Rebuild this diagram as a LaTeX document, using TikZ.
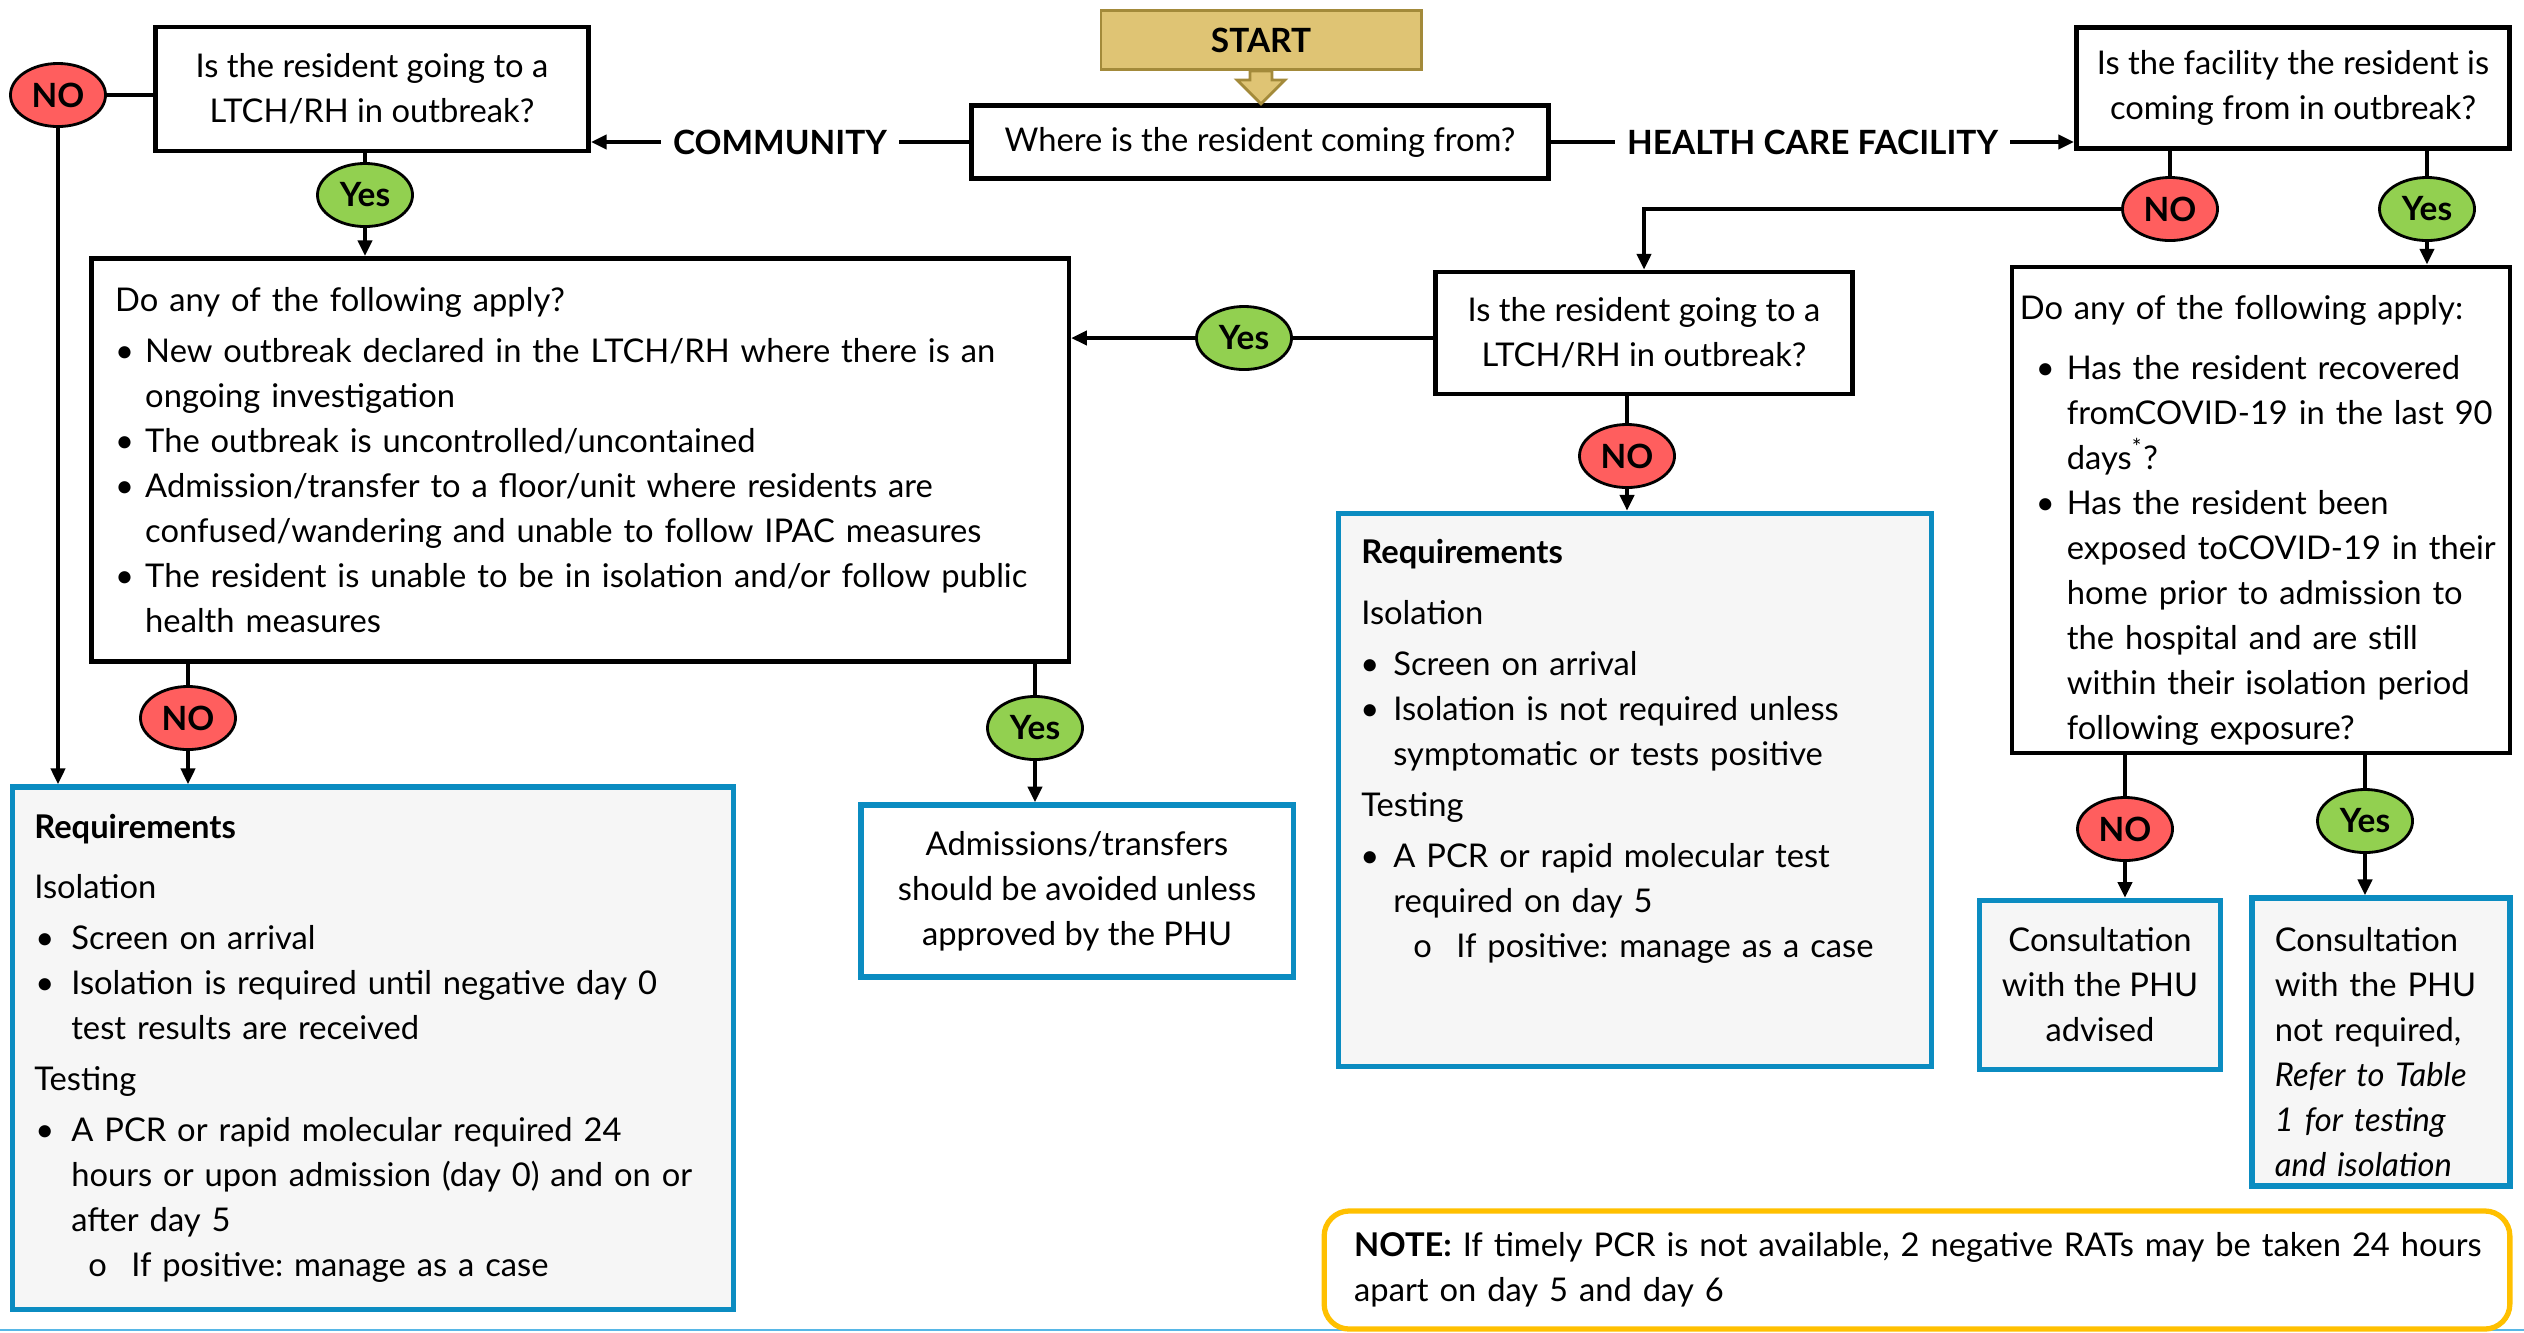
\documentclass[tikz,border=0pt]{standalone}
\usepackage{fontspec}
\setmainfont{Lato}
\usetikzlibrary{arrows.meta,shapes.geometric}

\definecolor{nored}{HTML}{FF5E5E}
\definecolor{yesgreen}{HTML}{92D050}
\definecolor{phublue}{HTML}{0B8CC1}
\definecolor{reqgray}{HTML}{F6F6F6}
\definecolor{startgold}{HTML}{DFC474}
\definecolor{startedge}{HTML}{A38A3A}
\definecolor{noteyellow}{HTML}{FFC000}
\definecolor{pageblue}{HTML}{57B7E6}

\frenchspacing
\newlength\padx
\newlength\bulx
\newlength\bulw
\newlength\subx
\newlength\subw
\newcommand\hd[1]{\par\noindent\hspace*{\padx}\mbox{#1}}
\newcommand\itm[1]{\par\noindent\hspace*{\bulx}\makebox[\bulw][l]{\textbullet}\mbox{#1}}
\newcommand\itmc[1]{\par\noindent\hspace*{\bulx}\hspace*{\bulw}\mbox{#1}}
\newcommand\itms[1]{\par\noindent\hspace*{\subx}\makebox[\subw][l]{o}\mbox{#1}}

\begin{document}
\begin{tikzpicture}[x=0.01cm, y=-0.01cm,
  font=\fontsize{9.3}{12.8}\selectfont,
  >={Triangle[length=4.5pt,width=4pt]},
  line/.style={line width=1.1pt},
  qbox/.style={draw, line width=1.3pt, align=center, inner sep=0pt},
  bigbox/.style={draw, line width=1.3pt, align=left, inner sep=0pt},
  reqbox/.style={draw=phublue, fill=reqgray, line width=1.5pt, align=left, inner sep=0pt},
  notebox/.style={draw=noteyellow, fill=white, line width=1.5pt, rounded corners=0.25cm, align=left, inner sep=0pt},
  startbox/.style={draw=startedge, fill=startgold, line width=0.8pt, font=\fontsize{9.5}{11}\selectfont\bfseries},
  nooval/.style={ellipse, draw, line width=0.8pt, fill=nored, minimum width=0.95cm, minimum height=0.63cm, inner sep=0pt, font=\fontsize{9.5}{11}\selectfont\bfseries},
  yesoval/.style={nooval, fill=yesgreen},
  tag/.style={fill=white, inner xsep=0.12cm, font=\fontsize{9.5}{11}\selectfont\bfseries}]
  \useasboundingbox (0,0) rectangle (2524,1332);
  \draw[pageblue, line width=0.6pt] (0,1330) -- (2524,1330);

  \node[startbox, minimum width=3.2cm, minimum height=0.59cm] (start) at (1261,40) {START};
  \node[qbox, minimum width=5.77cm, minimum height=0.73cm] (main) at (1260,142) {Where is the resident coming from?};
  \node[qbox, minimum width=4.33cm, minimum height=1.24cm] (q1) at (372,89) {Is the resident going to a\\LTCH/RH in outbreak?};
  \node[qbox, minimum width=4.33cm, minimum height=1.21cm] (q2) at (2293,88) {Is the facility the resident is\\coming from in outbreak?};
  \node[qbox, minimum width=4.17cm, minimum height=1.22cm] (q3) at (1644,333) {Is the resident going to a\\LTCH/RH in outbreak?};

  \node[bigbox, text width=9.77cm, minimum height=4.03cm] (apply1) at (580,460) {%
    \setlength\padx{.24cm}\setlength\bulx{.24cm}\setlength\bulw{.30cm}%
    \hd{Do any of the following apply?}\par\vspace{1.7pt}
    \itm{New outbreak declared in the LTCH/RH where there is an}
    \itmc{ongoing investigation}
    \itm{The outbreak is uncontrolled/uncontained}
    \itm{Admission/transfer to a floor/unit where residents are}
    \itmc{confused/wandering and unable to follow IPAC measures}
    \itm{The resident is unable to be in isolation and/or follow public}
    \itmc{health measures}
    \par\kern0.2cm};
  \node[bigbox, text width=4.98cm, minimum height=4.86cm] (apply2) at (2261,510) {%
    \setlength\padx{.08cm}\setlength\bulx{.24cm}\setlength\bulw{.31cm}%
    \hd{Do any of the following apply:}\par\vspace{4pt}
    \itm{Has the resident recovered}
    \itmc{fromCOVID-19 in the last 90}
    \itmc{days\textsuperscript{*}?}
    \itm{Has the resident been}
    \itmc{exposed toCOVID-19 in their}
    \itmc{home prior to admission to}
    \itmc{the hospital and are still}
    \itmc{within their isolation period}
    \itmc{following exposure?}};

  \node[reqbox, text width=7.21cm, minimum height=5.22cm] (req1) at (373,1048) {%
    \setlength\padx{.22cm}\setlength\bulx{.23cm}\setlength\bulw{.36cm}%
    \setlength\subx{.76cm}\setlength\subw{.43cm}%
    \hd{\textbf{Requirements}}\par\vspace{4.5pt}
    \hd{Isolation}\par\vspace{1.7pt}
    \itm{Screen on arrival}
    \itm{Isolation is required until negative day 0}
    \itmc{test results are received}\par\vspace{1.7pt}
    \hd{Testing}\par\vspace{1.7pt}
    \itm{A PCR or rapid molecular required 24}
    \itmc{hours or upon admission (day 0) and on or}
    \itmc{after day 5}
    \itms{If positive: manage as a case}
    \par\kern0.2cm};
  \node[reqbox, fill=white, align=center, minimum width=4.32cm, minimum height=1.72cm] (avoid) at (1077,891) {Admissions/transfers\\should be avoided unless\\approved by the PHU};
  \node[reqbox, text width=5.93cm, minimum height=5.53cm] (req2) at (1635,790) {%
    \setlength\padx{.23cm}\setlength\bulx{.22cm}\setlength\bulw{.33cm}%
    \setlength\subx{.75cm}\setlength\subw{.43cm}%
    \hd{\textbf{Requirements}}\par\vspace{4.5pt}
    \hd{Isolation}\par\vspace{1.7pt}
    \itm{Screen on arrival}
    \itm{Isolation is not required unless}
    \itmc{symptomatic or tests positive}\par\vspace{1.7pt}
    \hd{Testing}\par\vspace{1.7pt}
    \itm{A PCR or rapid molecular test}
    \itmc{required on day 5}
    \itms{If positive: manage as a case}
    \par\rule{0pt}{0.94cm}};
  \node[reqbox, align=center, minimum width=2.41cm, minimum height=1.69cm] (phuno) at (2100,985) {Consultation\\with the PHU\\advised};
  \node[reqbox, text width=2.58cm, minimum height=2.88cm] (phuyes) at (2381,1042) {%
    \setlength\padx{.23cm}%
    \hd{Consultation}
    \hd{with the PHU}
    \hd{not required,}
    \hd{\textit{Refer to Table}}
    \hd{\textit{1 for testing}}
    \hd{\textit{and isolation}}};
  \node[notebox, text width=11.85cm, minimum height=1.18cm] (note) at (1917,1270) {%
    \setlength\padx{.30cm}%
    \hd{\textbf{NOTE:} If timely PCR is not available, 2 negative RATs may be taken 24 hours}
    \hd{apart on day 5 and day 6}
    \par\kern0.22cm};

  \node[nooval] (no1) at (58,95) {NO};
  \node[yesoval] (yes1) at (365,195) {Yes};
  \node[nooval] (no2) at (188,718) {NO};
  \node[yesoval] (yes2) at (1035,728) {Yes};
  \node[yesoval] (yes3) at (1244,338) {Yes};
  \node[nooval] (no3) at (2170,209) {NO};
  \node[yesoval] (yes4) at (2427,209) {Yes};
  \node[nooval] (no4) at (1627,456) {NO};
  \node[nooval] (no5) at (2125,829) {NO};
  \node[yesoval] (yes5) at (2365,821) {Yes};

  \draw[startedge, fill=startgold, line width=0.8pt] (start.south) ++(-11,0) -- ++(0,9) -- ++(-13,0) -- ++(24,24) -- ++(24,-24) -- ++(-13,0) -- ++(0,-9) -- cycle;
  \draw[line,->] (main.west) -- node[tag] {COMMUNITY} (main.west -| q1.east);
  \draw[line,->] (main.east) -- node[tag] {HEALTH CARE FACILITY} (main.east -| q2.west);
  \draw[line] (no1) -- (q1.west |- no1);
  \draw[line,->] (no1) -- (no1 |- req1.north);
  \draw[line] (q1.south -| yes1) -- (yes1);
  \draw[line,->] (yes1) -- (yes1 |- apply1.north);
  \draw[line] (q2.south -| no3) -- (no3);
  \draw[line,->] (no3) -| (q3.north);
  \draw[line] (q2.south -| yes4) -- (yes4);
  \draw[line,->] (yes4) -- (yes4 |- apply2.north);
  \draw[line] (q3.west |- yes3) -- (yes3);
  \draw[line,->] (yes3) -- (yes3 -| apply1.east);
  \draw[line] (q3.south -| no4) -- (no4);
  \draw[line,->] (no4) -- (no4 |- req2.north);
  \draw[line] (apply1.south -| no2) -- (no2);
  \draw[line,->] (no2) -- (no2 |- req1.north);
  \draw[line] (apply1.south -| yes2) -- (yes2);
  \draw[line,->] (yes2) -- (yes2 |- avoid.north);
  \draw[line] (apply2.south -| no5) -- (no5);
  \draw[line,->] (no5) -- (no5 |- phuno.north);
  \draw[line] (apply2.south -| yes5) -- (yes5);
  \draw[line,->] (yes5) -- (yes5 |- phuyes.north);
\end{tikzpicture}
\end{document}
